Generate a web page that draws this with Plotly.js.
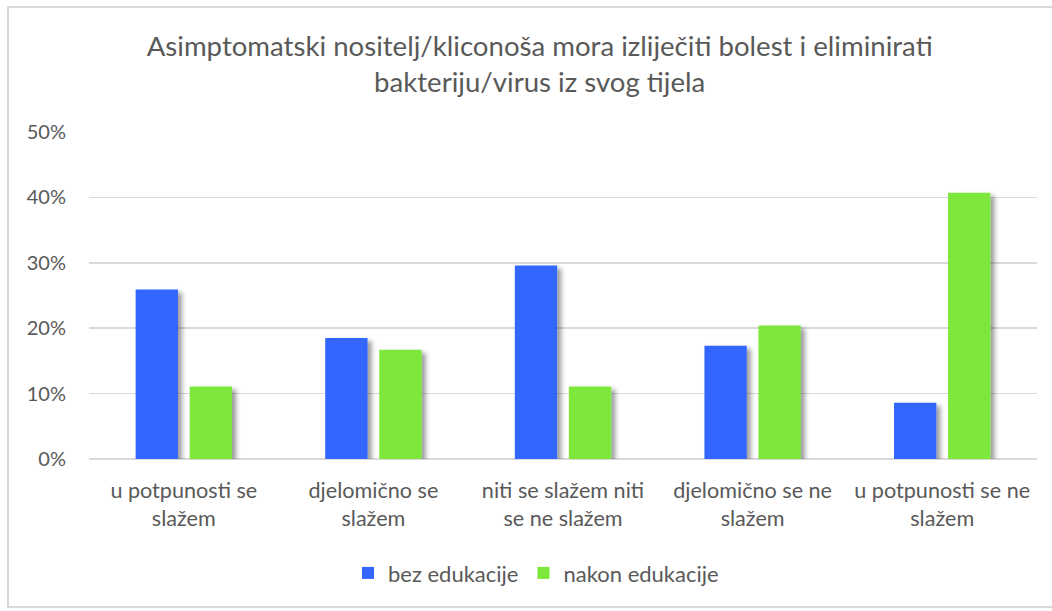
<!DOCTYPE html>
<html>
<head>
<meta charset="utf-8">
<script src="https://cdn.plot.ly/plotly-3.0.1.min.js"></script>
<style>
  html, body { margin: 0; padding: 0; background: #fff; overflow: hidden; }
  #wrap { position: relative; width: 1052px; height: 611px; }
  #chart { width: 1052px; height: 611px; }
  #frame { position: absolute; left: 7px; top: 6px; width: 1060px; height: 602px;
           border: 2px solid #D9D9D9; pointer-events: none; box-sizing: border-box; }
  .bars .point path { filter: url(#barShadow); }
</style>
</head>
<body>
<svg width="0" height="0" style="position:absolute">
  <defs>
    <filter id="barShadow" x="-30%" y="-10%" width="160%" height="125%">
      <feGaussianBlur in="SourceAlpha" stdDeviation="2.6"/>
      <feOffset dx="4" dy="3" result="ob"/>
      <feComponentTransfer><feFuncA type="linear" slope="0.4"/></feComponentTransfer>
      <feMerge><feMergeNode/><feMergeNode in="SourceGraphic"/></feMerge>
    </filter>
  </defs>
</svg>
<div id="wrap">
  <div id="chart"></div>
  <div id="frame"></div>
</div>
<script>
const categories = [
  "u potpunosti se<br>slažem",
  "djelomično se<br>slažem",
  "niti se slažem niti<br>se ne slažem",
  "djelomično se ne<br>slažem",
  "u potpunosti se ne<br>slažem"
];
const seriesNames = ["bez edukacije", "nakon edukacije"];
const bezEdukacije = [25.9, 18.5, 29.6, 17.3, 8.6];
const nakonEdukacije = [11.1, 16.7, 11.1, 20.4, 40.7];
const yTickVals = [0, 10, 20, 30, 40, 50];
const yTickText = ["0%", "10%", "20%", "30%", "40%", "50%"];
const titleText = "Asimptomatski nositelj/kliconoša mora izliječiti bolest i eliminirati<br>bakteriju/virus iz svog tijela";

const fontFamily = "Lato, 'Open Sans', sans-serif";
const textColor = "#595959";

const data = [
  { type: "bar", name: seriesNames[0], x: categories, y: bezEdukacije,
    marker: { color: "#3366FF" }, hoverinfo: "skip" },
  { type: "bar", name: seriesNames[1], x: categories, y: nakonEdukacije,
    marker: { color: "#7DE83A" }, hoverinfo: "skip" }
];

const layout = {
  width: 1052, height: 611,
  margin: { l: 89, r: 15, t: 132, b: 152 },
  paper_bgcolor: "#ffffff", plot_bgcolor: "#ffffff",
  font: { family: fontFamily, color: textColor, size: 21 },
  title: { text: titleText, font: { family: fontFamily, size: 27.6, color: textColor },
           x: 0.513, xanchor: "center", y: 0.908, yanchor: "middle" },
  barmode: "group", bargap: 0.43, bargroupgap: 0.217,
  xaxis: { type: "category", showgrid: false, zeroline: false, showline: false,
           ticks: "", tickfont: { size: 21.6, color: textColor }, ticklabelstandoff: 16 },
  yaxis: { range: [0, 50], tickvals: yTickVals, ticktext: yTickText,
           showgrid: true, gridcolor: "#D9D9D9", gridwidth: 1.5,
           zeroline: true, zerolinecolor: "#D9D9D9", zerolinewidth: 1.5,
           showline: false, ticks: "", tickfont: { size: 20, color: textColor },
           ticklabelstandoff: 22 },
  showlegend: true,
  legend: { orientation: "h", x: 0.4715, xanchor: "center", y: -0.349, yanchor: "middle",
            font: { size: 22, color: textColor }, traceorder: "normal" }
};

Plotly.newPlot("chart", data, layout, { displayModeBar: false, staticPlot: true });
</script>
</body>
</html>
